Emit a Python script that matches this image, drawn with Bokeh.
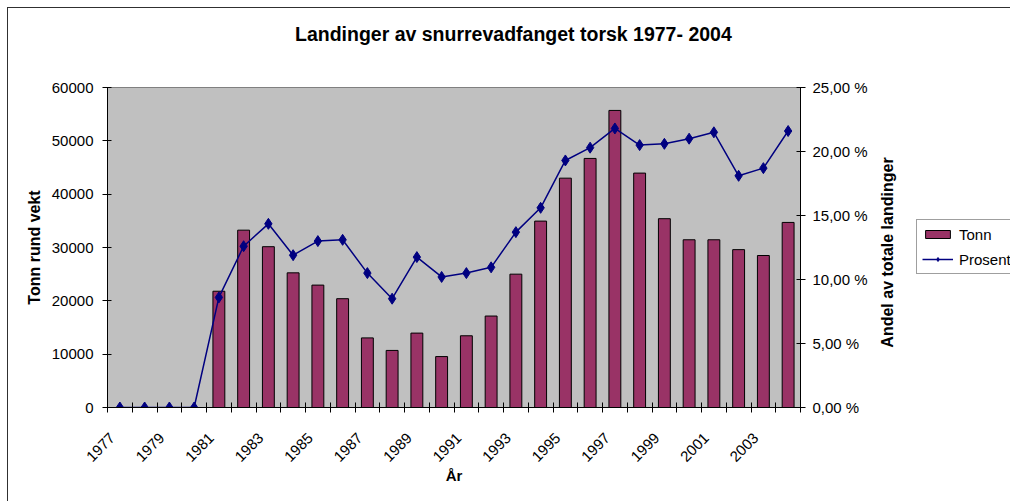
import math
from bokeh.plotting import figure
from bokeh.layouts import row, column
from bokeh.models import (Range1d, LinearAxis, FixedTicker, Legend, LegendItem, Label, Div)
from bokeh.embed import file_html
from bokeh.resources import INLINE

years = list(range(1977, 2005))
tonn = [0, 0, 0, 0, 21800, 33250, 30150, 25250, 22950, 20400, 13050, 10700, 13950, 9550,
        13450, 17150, 25000, 34950, 43000, 46700, 55700, 43950, 35400, 31450, 31450, 29600,
        28500, 34700]
prosent = [0, 0, 0, 0, 8.6, 12.6, 14.35, 11.9, 13.0, 13.1, 10.5, 8.5, 11.75, 10.2,
           10.5, 10.95, 13.7, 15.6, 19.3, 20.3, 21.8, 20.5, 20.6, 21.0, 21.5, 18.1,
           18.7, 21.6]
x_labels = [str(y) for y in range(1977, 2005, 2)]
left_ticks = [0, 10000, 20000, 30000, 40000, 50000, 60000]
right_ticks = [0, 5, 10, 15, 20, 25]
right_labels = ["0,00 %", "5,00 %", "10,00 %", "15,00 %", "20,00 %", "25,00 %"]
title_text = "Landinger av snurrevadfanget torsk 1977- 2004"

FONT = "Liberation Sans"
LABEL_SHIFT = 0.3  # rotated labels end slightly left of the category centre
BAR_COLOR = "#993366"
LINE_COLOR = "#000080"
EDGE = "#303030"

W, T, H = 1010, 50, 501
W1 = 870
W2 = W - W1
HP = H - T          # height of the plot row
FRAME_TOP = 87      # page y of the frame's top
FRAME_BOTTOM = 407  # page y of the frame's bottom

title = Div(text=(f'<div style="padding:23px 0 0 295px; font-family:\'{FONT}\'; font-size:19.5px; '
                  f'font-weight:bold; line-height:22px; white-space:nowrap; color:black;">'
                  f'{title_text}</div>'),
            width=W, height=T, margin=0)

p = figure(width=W1, height=HP, frame_width=693, frame_height=FRAME_BOTTOM - FRAME_TOP,
           min_border_left=107, min_border_right=W1 - 800, min_border_top=FRAME_TOP - T,
           min_border_bottom=H - FRAME_BOTTOM,
           x_range=Range1d(1976.5, 2004.5), y_range=Range1d(0, 60000),
           output_backend="svg", toolbar_location=None)
p.extra_y_ranges = {"pct": Range1d(0, 25)}
p.background_fill_color = "#C0C0C0"
p.border_fill_color = None
p.outline_line_color = "#808080"
p.xgrid.visible = False
p.ygrid.visible = False

bars = p.vbar(x=years, top=tonn, width=0.48, fill_color=BAR_COLOR, line_color="black", line_width=1)
p.line(years, prosent, y_range_name="pct", line_color=LINE_COLOR, line_width=1.5)
p.scatter(years, prosent, y_range_name="pct", marker="diamond", size=11,
          fill_color=LINE_COLOR, line_color=LINE_COLOR)

# x axis
xa = p.xaxis[0]
label_pos = [int(s) - LABEL_SHIFT for s in x_labels]
xa.ticker = FixedTicker(ticks=label_pos,
                        minor_ticks=[y - 0.5 for y in years] + [years[-1] + 0.5])
xa.major_label_overrides = {t: s for t, s in zip(label_pos, x_labels)}
xa.major_tick_in = 0
xa.major_tick_out = 0
xa.minor_tick_in = 5
xa.minor_tick_out = 5
xa.minor_tick_line_color = "black"
xa.major_label_orientation = math.pi / 4
xa.major_label_standoff = 23
xa.major_label_text_font = FONT
xa.major_label_text_font_size = "15px"
xa.major_label_text_color = "black"
xa.axis_line_color = "black"
xa.axis_label = "År"
xa.axis_label_text_font = FONT
xa.axis_label_text_font_size = "15px"
xa.axis_label_text_font_style = "bold"
xa.axis_label_text_color = "black"
xa.axis_label_standoff = -2

# left axis
ya = p.yaxis[0]
ya.ticker = FixedTicker(ticks=left_ticks, minor_ticks=[])
ya.major_label_overrides = {t: str(t) for t in left_ticks}
ya.major_tick_in = 4
ya.major_tick_out = 5
ya.major_tick_line_color = "black"
ya.major_label_standoff = 9
ya.major_label_text_font = FONT
ya.major_label_text_font_size = "15px"
ya.major_label_text_color = "black"
ya.axis_line_color = "black"
ya.axis_label = "Tonn rund vekt"
ya.axis_label_text_font = FONT
ya.axis_label_text_font_size = "16px"
ya.axis_label_text_font_style = "bold"
ya.axis_label_text_color = "black"
ya.axis_label_standoff = 6

# right axis
ra = LinearAxis(y_range_name="pct", ticker=FixedTicker(ticks=right_ticks, minor_ticks=[]))
ra.major_label_overrides = {t: lab for t, lab in zip(right_ticks, right_labels)}
ra.major_tick_in = 4
ra.major_tick_out = 5
ra.major_tick_line_color = "black"
ra.major_label_standoff = 7
ra.major_label_text_font = FONT
ra.major_label_text_font_size = "15px"
ra.major_label_text_color = "black"
ra.axis_line_color = "black"
p.add_layout(ra, "right")

# side figure: right axis title and legend (same series, drawn outside its view)
p2 = figure(width=W2, height=HP, min_border=0, x_range=Range1d(0, 1), y_range=Range1d(0, 1),
            x_axis_location=None, y_axis_location=None,
            output_backend="svg", toolbar_location=None)
p2.extra_y_ranges = {"pct": Range1d(0, 1)}
p2.xgrid.visible = False
p2.ygrid.visible = False
p2.background_fill_color = None
p2.border_fill_color = None
p2.outline_line_color = None

lb = p2.vbar(x=years, top=tonn, width=0.48, fill_color=BAR_COLOR, line_color="black", line_width=1)
ll = p2.line(years, prosent, y_range_name="pct", line_color=LINE_COLOR, line_width=1.5)
lp = p2.scatter(years, prosent, y_range_name="pct", marker="diamond", size=9,
                fill_color=LINE_COLOR, line_color=LINE_COLOR)

# the side figure's frame is aligned with the main frame (page y 87..407)
p2.add_layout(Label(x=887 - W1, y=FRAME_BOTTOM - 252, x_units="screen", y_units="screen",
                    angle=math.pi / 2, text="Andel av totale landinger", text_font=FONT,
                    text_font_size="16px", text_font_style="bold", text_align="center",
                    text_baseline="middle", text_color="black"))

legend = Legend(items=[LegendItem(label="Tonn", renderers=[lb]),
                       LegendItem(label="Prosent", renderers=[ll, lp])],
                location=(916 - W1, FRAME_BOTTOM - 274))
legend.label_text_font = FONT
legend.label_text_font_size = "15px"
legend.label_text_color = "black"
legend.glyph_width = 31
legend.glyph_height = 10
legend.label_height = 18
legend.label_standoff = 6
legend.spacing = 7
legend.padding = 5
legend.margin = 0
legend.border_line_color = "#404040"
legend.border_line_width = 1
legend.background_fill_color = "white"
legend.background_fill_alpha = 1
p2.add_layout(legend, "center")

layout = column(title, row(p, p2))
layout.styles = {"background": f"linear-gradient({EDGE},{EDGE}) 7px 7px / 1px {H}px no-repeat, "
                               f"linear-gradient({EDGE},{EDGE}) 7px 7px / {W}px 1px no-repeat, white"}
open("out.html", "w").write(file_html(layout, INLINE))
